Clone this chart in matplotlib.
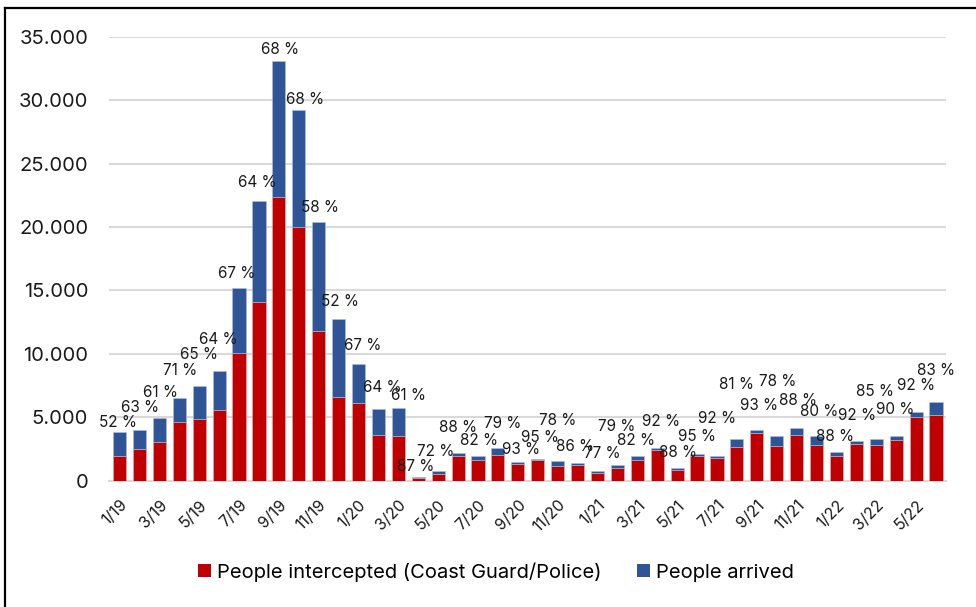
import matplotlib
matplotlib.use('Agg')
import matplotlib.pyplot as plt
from matplotlib.patches import Patch
from matplotlib.lines import Line2D
import numpy as np

plt.rcParams['font.family'] = ['Inter', 'DejaVu Sans']

months = ["1/19", "2/19", "3/19", "4/19", "5/19", "6/19", "7/19", "8/19", "9/19", "10/19", "11/19", "12/19",
          "1/20", "2/20", "3/20", "4/20", "5/20", "6/20", "7/20", "8/20", "9/20", "10/20", "11/20", "12/20",
          "1/21", "2/21", "3/21", "4/21", "5/21", "6/21", "7/21", "8/21", "9/21", "10/21", "11/21", "12/21",
          "1/22", "2/22", "3/22", "4/22", "5/22", "6/22"]

intercepted = [1970, 2490, 3000, 4650, 4840, 5530, 10100, 14120, 22380, 19990, 11800, 6570,
               6130, 3600, 3480, 220, 545, 1900, 1600, 2010, 1340, 1580, 1170, 1220,
               590, 1000, 1600, 2370, 850, 1970, 1770, 2660, 3740, 2740, 3630, 2840,
               1960, 2880, 2800, 3200, 4990, 5150]
arrived = [1820, 1500, 1940, 1870, 2600, 3150, 5070, 7940, 10760, 9280, 8580, 6210,
           3080, 2030, 2260, 30, 215, 250, 350, 540, 100, 80, 330, 200,
           180, 260, 350, 210, 120, 110, 150, 630, 280, 780, 500, 710,
           270, 250, 490, 350, 430, 1060]
share = [52, 63, 61, 71, 65, 64, 67, 64, 68, 68, 58, 52,
         67, 64, 61, 87, 72, 88, 82, 79, 93, 95, 78, 86,
         77, 79, 82, 92, 88, 95, 92, 81, 93, 78, 88, 80,
         88, 92, 85, 90, 92, 83]

# label nudges (pixels) so the percentages sit like in the original
label_dx = [-2, 1, 1, 1, 0, -1, -2, -2, 1, 6, 1, 1, 4, 4, 10, -3, -2, 0, 1, 5, 3, 2, 0, -3,
            5, -1, -1, 4, 1, 0, 0, 0, 2, 1, 1, 3, -1, 1, -1, -1, 0, 0]
label_dy = [10, 22, 25, 27, 32, 31, 15, 18, 11, 10, 15, 17, 18, 22, 12, 11, 19, 26, 15, 25, 13, 22, 41, 16,
            17, 38, 15, 26, 16, 18, 38, 54, 24, 54, 28, 24, 16, 25, 47, 26, 26, 31]

RED = "#C00000"
BLUE = "#2F5597"

fig = plt.figure(figsize=(9.76, 6.07), dpi=100)
ax = fig.add_axes([109 / 976, 1 - 480.5 / 607, (946 - 109) / 976, (480.5 - 37) / 607])

x = np.arange(len(months))
inter = np.array(intercepted)
arr = np.array(arrived)
ax.bar(x, inter, width=0.66, color=RED, edgecolor="#e8b0b0", linewidth=0.4, zorder=3)
ax.bar(x, arr, bottom=inter, width=0.66, color=BLUE, edgecolor="#b0c0e0", linewidth=0.4, zorder=3)

px2pt = 72 / 100
for i in range(len(months)):
    ax.annotate("%d %%" % share[i], (x[i], inter[i] + arr[i]),
                xytext=(label_dx[i] * px2pt, label_dy[i] * px2pt), textcoords="offset points",
                ha="center", va="center", fontsize=11, color="#1a1a1a", zorder=5)

ax.set_xlim(-0.53, 41.5)
ax.set_ylim(0, 35000)
ax.set_yticks(np.arange(0, 35001, 5000))
ax.set_yticklabels(["0" if v == 0 else "{:,}".format(v).replace(",", ".") for v in range(0, 35001, 5000)],
                   fontsize=14.5, color="#1a1a1a")
ax.tick_params(axis="y", length=0, pad=15)
ax.set_xticks(x[::2])
ax.set_xticklabels(months[::2], rotation=45, ha="right", va="top", rotation_mode="anchor",
                   fontsize=11.5, color="#1a1a1a")
ax.tick_params(axis="x", length=0, pad=12)
ax.grid(axis="y", color="#d9d9d9", linewidth=1.5, zorder=0)
for s in ["top", "right", "left"]:
    ax.spines[s].set_visible(False)
ax.spines["bottom"].set_color("#d9d9d9")
ax.spines["bottom"].set_linewidth(1.5)

handles = [Patch(facecolor=RED, label="People intercepted (Coast Guard/Police)"),
           Patch(facecolor=BLUE, label="People arrived")]
fig.legend(handles=handles, loc="center", bbox_to_anchor=(496 / 976, 1 - 572 / 607), ncol=2,
           frameon=False, fontsize=14.5, handlelength=0.62, handleheight=0.62, handletextpad=0.3,
           columnspacing=1.8)

# outer frame (top and left edges visible in the original crop)
fig.add_artist(Line2D([5 / 976, 1], [1 - 8 / 607, 1 - 8 / 607], color="black", linewidth=1.6,
                      transform=fig.transFigure))
fig.add_artist(Line2D([5 / 976, 5 / 976], [0, 1 - 8 / 607], color="black", linewidth=1.6,
                      transform=fig.transFigure))

plt.savefig("out.png", dpi=100)
